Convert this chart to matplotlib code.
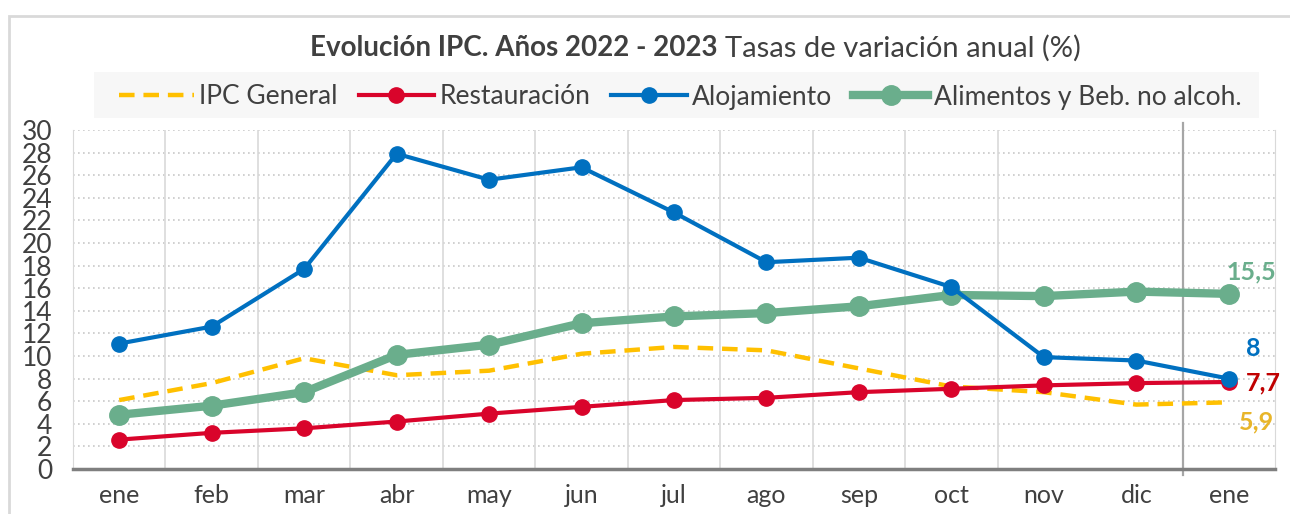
import matplotlib
matplotlib.use("Agg")
import matplotlib.pyplot as plt
from matplotlib.patches import Rectangle

plt.rcParams['font.family'] = ['Lato', 'DejaVu Sans']

months = ["ene", "feb", "mar", "abr", "may", "jun", "jul", "ago", "sep", "oct", "nov", "dic", "ene"]
ipc_general = [6.1, 7.6, 9.8, 8.3, 8.7, 10.2, 10.8, 10.5, 8.9, 7.3, 6.8, 5.7, 5.9]
restauracion = [2.6, 3.2, 3.6, 4.2, 4.9, 5.5, 6.1, 6.3, 6.8, 7.1, 7.4, 7.6, 7.7]
alojamiento = [11.1, 12.6, 17.7, 27.9, 25.6, 26.7, 22.7, 18.3, 18.7, 16.1, 9.9, 9.6, 8.0]
alimentos = [4.8, 5.6, 6.8, 10.1, 11.0, 12.9, 13.5, 13.8, 14.4, 15.4, 15.3, 15.7, 15.5]
end_labels = ["15,5", "8", "7,7", "5,9"]

W, H = 1290, 514
fig = plt.figure(figsize=(W / 100, H / 100), dpi=100)
fig.patch.set_facecolor("white")

# outer frame
fig.add_artist(Rectangle((9 / W, -0.1), 1.2, (H - 16) / H + 0.1, transform=fig.transFigure,
                         fill=False, edgecolor="#d9d9d9", linewidth=2))

ax = fig.add_axes([73 / W, (H - 469) / H, (1275 - 73) / W, (469 - 130) / H])
x = list(range(len(months)))

c_ipc = "#FFC000"
c_res = "#D9042B"
c_alo = "#0070C0"
c_ali = "#6AAE8C"

ax.plot(x, ipc_general, color=c_ipc, lw=3.2, ls=(0, (3.5, 2)), label="IPC General", zorder=3)
ax.plot(x, restauracion, color=c_res, lw=3, marker="o", ms=11, label="Restauración", zorder=4)
ax.plot(x, alojamiento, color=c_alo, lw=3, marker="o", ms=11, label="Alojamiento", zorder=5)
ax.plot(x, alimentos, color=c_ali, lw=6, marker="o", ms=14, label="Alimentos y Beb. no alcoh.", zorder=4)

ax.set_xlim(-0.5, len(months) - 0.5)
ax.set_ylim(0, 30)
ax.set_yticks(range(0, 31, 2))
ax.set_xticks(x)
ax.set_xticklabels(months)
ax.tick_params(axis="both", length=0, colors="#404040")
ax.tick_params(axis="x", pad=11, labelsize=18)
ax.tick_params(axis="y", pad=15, labelsize=19)

for yv in range(2, 31, 2):
    ax.axhline(yv, color="#c8c8c8", lw=1.2, ls=(0, (1, 2)), zorder=1)
for xv in range(len(months) - 1):
    if xv == 10:
        continue
    ax.axvline(xv + 0.5, color="#d9d9d9", lw=1.2, zorder=1)
ax.plot([11.5, 11.5], [-0.5, 30.6], color="#a6a6a6", lw=1.6, clip_on=False, zorder=2)

ax.spines["top"].set_visible(False)
ax.spines["left"].set_color("#d9d9d9")
ax.spines["right"].set_color("#d9d9d9")
ax.spines["bottom"].set_color("#7f7f7f")
ax.spines["bottom"].set_linewidth(2.5)

# end labels
ax.text(12.24, alimentos[-1] + 1.93, end_labels[0], color=c_ali, fontsize=18, fontweight="bold", ha="center", va="center")
ax.text(12.27, alojamiento[-1] + 2.62, end_labels[1], color=c_alo, fontsize=18, fontweight="bold", ha="center", va="center")
ax.text(12.37, restauracion[-1] - 0.1, end_labels[2], color="#C00000", fontsize=18, fontweight="bold", ha="center", va="center")
ax.text(12.30, ipc_general[-1] - 1.74, end_labels[3], color="#E8B52A", fontsize=18, fontweight="bold", ha="center", va="center")

# title
fig.text(718 / W, (H - 48) / H, "Evolución IPC. Años 2022 - 2023", fontsize=20, fontweight="bold",
         color="#404040", ha="right", va="center")
fig.text(725 / W, (H - 48) / H, "Tasas de variación anual (%)", fontsize=21,
         color="#404040", ha="left", va="center")

# legend background
fig.add_artist(Rectangle((94 / W, (H - 118) / H), (1259 - 94) / W, 46 / H, transform=fig.transFigure,
                         facecolor="#f7f7f7", edgecolor="none", zorder=0))
leg = fig.legend(loc="center", bbox_to_anchor=(680 / W, (H - 97) / H), ncol=4, frameon=False,
                 fontsize=19, handlelength=2.85, handletextpad=0.2, columnspacing=0.8,
                 labelcolor="#404040")

fig.savefig("out.png", dpi=100)
